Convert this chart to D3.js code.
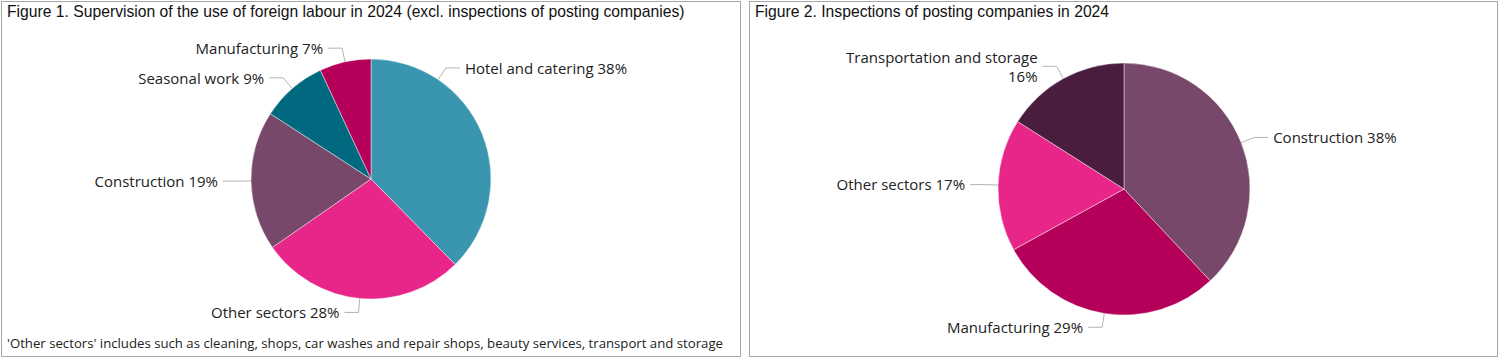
<!DOCTYPE html>
<html lang="en">
<head>
<meta charset="UTF-8">
<title>Foreign labour supervision 2024</title>
<script src="https://d3js.org/d3.v7.min.js"></script>
<style>
    body { margin: 0; background: #fff; }
    svg { display: block; }
</style>
</head>
<body>
<svg id="chart" width="1502" height="359"></svg>
<script>

// data
const fig1Title = 'Figure 1. Supervision of the use of foreign labour in 2024 (excl. inspections of posting companies)';
const fig1Sectors = ['Hotel and catering', 'Other sectors', 'Construction', 'Seasonal work', 'Manufacturing'];
const fig1Shares = [38, 28, 19, 9, 7];
const fig1Note = "'Other sectors' includes such as cleaning, shops, car washes and repair shops, beauty services, transport and storage";

const fig2Title = 'Figure 2. Inspections of posting companies in 2024';
const fig2Sectors = ['Construction', 'Manufacturing', 'Other sectors', 'Transportation and storage'];
const fig2Shares = [38, 29, 17, 16];

// one colour per sector, shared by both figures
const sectorColor = d3.scaleOrdinal()
    .domain(['Hotel and catering', 'Other sectors', 'Construction', 'Seasonal work', 'Manufacturing', 'Transportation and storage'])
    .range(['#3a96ae', '#e8268a', '#77486a', '#00687f', '#b5005a', '#4a1d3f']);

const svg = d3.select('#chart');

function panel(x, w, title) {
    const g = svg.append('g').attr('transform', `translate(${x},0)`);
    g.append('rect')
        .attr('x', 0.5).attr('y', 1.5)
        .attr('width', w).attr('height', 355)
        .attr('fill', '#fff')
        .attr('stroke', '#a6a6a6');
    g.append('text')
        .attr('x', 6).attr('y', 17)
        .style('font-family', 'Liberation Sans, Arial, sans-serif')
        .style('font-size', '15.7px')
        .style('fill', '#111')
        .text(title);
    return g;
}

// anchor angle override (degrees) for labels that were shifted in the original
function drawPie(g, cx, cy, r, names, values, anchorDeg) {
    const data = names.map((n, i) => ({ name: n, value: values[i] }));
    const total = d3.sum(values);
    const pie = d3.pie().sort(null).value(d => d.value);
    const arc = d3.arc().innerRadius(0).outerRadius(r);
    const arcs = pie(data);

    const pg = g.append('g').attr('transform', `translate(${cx},${cy})`);

    pg.selectAll('path.slice')
        .data(arcs)
        .enter()
        .append('path')
        .attr('class', 'slice')
        .attr('d', arc)
        .attr('fill', d => sectorColor(d.data.name))
        .attr('stroke', 'rgba(255,255,255,0.55)')
        .attr('stroke-width', 0.8);

    const lines = [];
    arcs.forEach(d => {
        let a = (d.startAngle + d.endAngle) / 2;
        if (anchorDeg && anchorDeg[d.data.name] !== undefined) a = anchorDeg[d.data.name] * Math.PI / 180;
        const right = Math.sin(a) >= 0;
        const p = [r * Math.sin(a), -r * Math.cos(a)];
        const e = [(r + 14) * Math.sin(a), -(r + 14) * Math.cos(a)];
        const h = [e[0] + (right ? 14 : -14), e[1]];
        lines.push({ d, right, pts: [p, e, h] });
    });

    pg.selectAll('path.leader')
        .data(lines)
        .enter()
        .append('path')
        .attr('class', 'leader')
        .attr('d', l => d3.line()(l.pts))
        .attr('fill', 'none')
        .attr('stroke', '#b3b3b3')
        .attr('stroke-width', 1);

    const labels = pg.selectAll('text.label')
        .data(lines)
        .enter()
        .append('text')
        .attr('class', 'label')
        .attr('text-anchor', l => l.right ? 'start' : 'end')
        .style('font-family', 'Open Sans, sans-serif')
        .style('font-size', '15px')
        .style('fill', '#222');

    labels.each(function (l) {
        const t = d3.select(this);
        const pct = Math.round(l.d.data.value / total * 100) + '%';
        const full = l.d.data.name + ' ' + pct;
        const x = l.pts[2][0] + (l.right ? 5 : -5);
        // wrap long labels before the percentage
        const probe = t.append('tspan').text(full);
        const rows = probe.node().getComputedTextLength() > 210 ? [l.d.data.name, pct] : [full];
        probe.remove();
        const lh = 19;
        const y0 = l.pts[2][1] - (rows.length - 1) * lh / 2;
        rows.forEach((row, i) => {
            t.append('tspan')
                .attr('x', x)
                .attr('y', y0 + i * lh)
                .attr('dy', '0.38em')
                .text(row);
        });
    });
}

const p1 = panel(1, 739, fig1Title);
drawPie(p1, 370, 179, 120, fig1Sectors, fig1Shares, { 'Hotel and catering': 34 });
p1.append('text')
    .attr('x', 6).attr('y', 348)
    .attr('textLength', 716)
    .attr('lengthAdjust', 'spacingAndGlyphs')
    .style('font-family', 'Open Sans, sans-serif')
    .style('font-size', '13px')
    .style('fill', '#222')
    .text(fig1Note);

const p2 = panel(749, 748, fig2Title);
drawPie(p2, 375, 189, 126, fig2Sectors, fig2Shares, null);

</script>
</body>
</html>
